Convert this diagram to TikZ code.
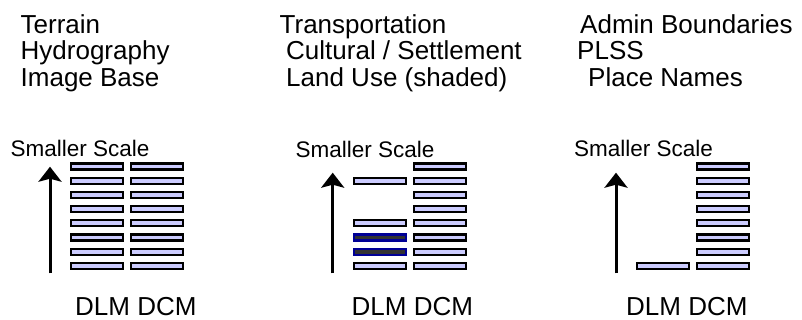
\documentclass[tikz,border=0pt]{standalone}
\usepackage{fontspec}
\setmainfont{Liberation Sans}
\usepackage{tikz}
\usetikzlibrary{arrows.meta}
\definecolor{barfill}{RGB}{204,204,255}
\definecolor{shadefill}{RGB}{51,51,51}
\definecolor{shadeline}{RGB}{0,0,150}
\newcommand{\ttlfont}{\fontsize{26}{31}\selectfont}
\newcommand{\smscfont}{\fontsize{22.5}{27}\selectfont}

\begin{document}
\begin{tikzpicture}[x=1pt,y=-1pt,>={Stealth[length=15pt,width=23pt,inset=3pt]},
  bar/.style={draw,line width=2.2pt,fill=barfill,minimum width=52pt,minimum height=6pt,inner sep=0pt},
  shbar/.style={bar,draw=shadeline,fill=shadefill},
  ttl/.style={anchor=base west,inner sep=0pt,font=\ttlfont},
  smsc/.style={anchor=base west,inner sep=0pt,font=\smscfont},
  uparrow/.style={->,line width=3pt}]
  \useasboundingbox (0,0) rectangle (802,320);
  % theme lists
  \node[ttl] (terrain) at (20.5,33.3) {Terrain};
  \node[ttl] (hydro) at (20.5,60) {Hydrography};
  \node[ttl] (image) at (20.5,86.7) {Image Base};
  \node[ttl] (transp) at (279.5,33.3) {Transportation};
  \node[ttl] (cult) at (286,60) {Cultural / Settlement};
  \node[ttl] (landuse) at (286,86.7) {Land Use (shaded)};
  \node[ttl] (admin) at (580,33.3) {Admin Boundaries};
  \node[ttl] (plss) at (577,60) {PLSS};
  \node[ttl] (place) at (588,86.7) {Place Names};
  % scale arrows
  \node[smsc] (scA) at (10.5,156.3) {Smaller Scale};
  \node[smsc] (scB) at (295.5,158) {Smaller Scale};
  \node[smsc] (scC) at (574,156.7) {Smaller Scale};
  \coordinate (upAb) at (50,273.3);  \coordinate (upAt) at (50,166.7);
  \coordinate (upBb) at (332.7,273.3); \coordinate (upBt) at (332.7,172.7);
  \coordinate (upCb) at (616,273.3); \coordinate (upCt) at (616,172.7);
  \draw[uparrow] (upAb) -- (upAt);
  \draw[uparrow] (upBb) -- (upBt);
  \draw[uparrow] (upCb) -- (upCt);
  % DLM / DCM levels
  \foreach \r [evaluate=\r as \y using 152.3+14.2*\r] in {1,...,8} {
    \node[bar] (dlmA\r) at (97,\y) {};
    \node[bar] (dcmA\r) at (157,\y) {};
    \node[bar] (dcmB\r) at (439.7,\y) {};
    \node[bar] (dcmC\r) at (723,\y) {};
  }
  \foreach \r [evaluate=\r as \y using 152.3+14.2*\r] in {2,5,8}
    \node[bar] (dlmB\r) at (379.7,\y) {};
  \foreach \r [evaluate=\r as \y using 152.3+14.2*\r] in {6,7}
    \node[shbar] (dlmB\r) at (379.7,\y) {};
  \node[bar] (dlmC8) at (663,265.9) {};
  \node[ttl] (keyA) at (75,315.5) {DLM DCM};
  \node[ttl] (keyB) at (351.5,315.5) {DLM DCM};
  \node[ttl] (keyC) at (626,315.5) {DLM DCM};
\end{tikzpicture}
\end{document}
